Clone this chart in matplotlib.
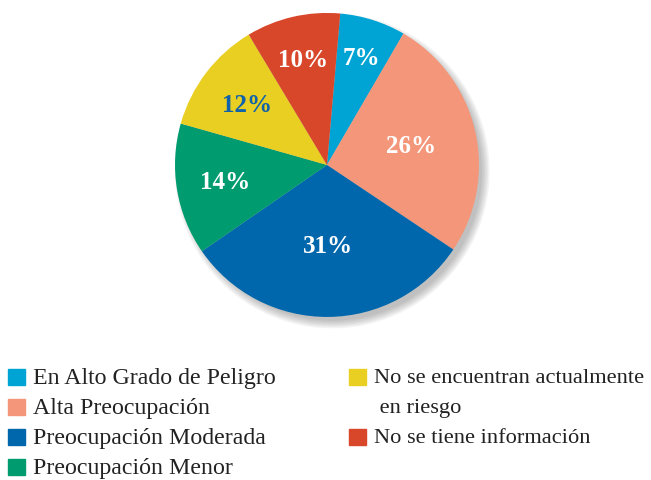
import numpy as np
import matplotlib.pyplot as plt
from matplotlib.patches import Circle, Rectangle

# datos
categorias = ["En Alto Grado de Peligro", "Alta Preocupación", "Preocupación Moderada",
              "Preocupación Menor", "No se encuentran actualmente\n en riesgo",
              "No se tiene información"]
valores = [7, 26, 31, 14, 12, 10]
colores = ["#00A4D4", "#F4967A", "#0067AC", "#009B6E", "#E8CF22", "#D9472B"]
color_texto = ["white", "white", "white", "white", "#1062AA", "white"]
dist_texto = [0.74, 0.57, 0.53, 0.68, 0.66, 0.71]

plt.rcParams['font.family'] = ['Liberation Serif', 'DejaVu Serif']

fig = plt.figure(figsize=(6.51, 4.81), dpi=100)
ax = fig.add_axes([0.2688, 0.339, 0.467, 0.632])

# sombra suave abajo a la derecha
for k in range(6):
    ax.add_patch(Circle((0.035, -0.04), 0.985 + 0.01 * k, color="#555555",
                        alpha=0.07, lw=0, zorder=0, clip_on=False))

wedges, _ = ax.pie(valores, colors=colores, startangle=85, counterclock=False,
                   radius=1.0, wedgeprops=dict(linewidth=0))
for w in wedges:
    w.set_zorder(2)

for w, v, c, d in zip(wedges, valores, color_texto, dist_texto):
    ang = np.deg2rad((w.theta1 + w.theta2) / 2)
    ax.text(d * np.cos(ang), d * np.sin(ang), f"{v}%", color=c, fontsize=18,
            fontweight="bold", ha="center", va="center", zorder=3)

ax.set_xlim(-1, 1)
ax.set_ylim(-1, 1)
ax.set_aspect("equal")
ax.axis("off")

# leyenda manual
W, H = 651, 481
filas_izq = [378, 408, 438, 468]
filas_der = [378, 438]
pos = [(8, y) for y in filas_izq] + [(349, y) for y in filas_der]
tam = [17.2] * 4 + [16.1] * 2
for (x, y), col, lab, fs in zip(pos, colores, categorias, tam):
    fig.patches.append(Rectangle((x / W, 1 - (y + 8) / H), 17 / W, 16 / H,
                                 color=col, transform=fig.transFigure, figure=fig))
    lineas = lab.split("\n")
    fig.text((x + 25) / W, 1 - (y + 1) / H, lineas[0], fontsize=fs, color="#222222",
             ha="left", va="center")
    if len(lineas) > 1:
        fig.text((x + 25) / W, 1 - (y + 31) / H, lineas[1], fontsize=fs,
                 color="#222222", ha="left", va="center")

fig.savefig("out.png", dpi=100)
